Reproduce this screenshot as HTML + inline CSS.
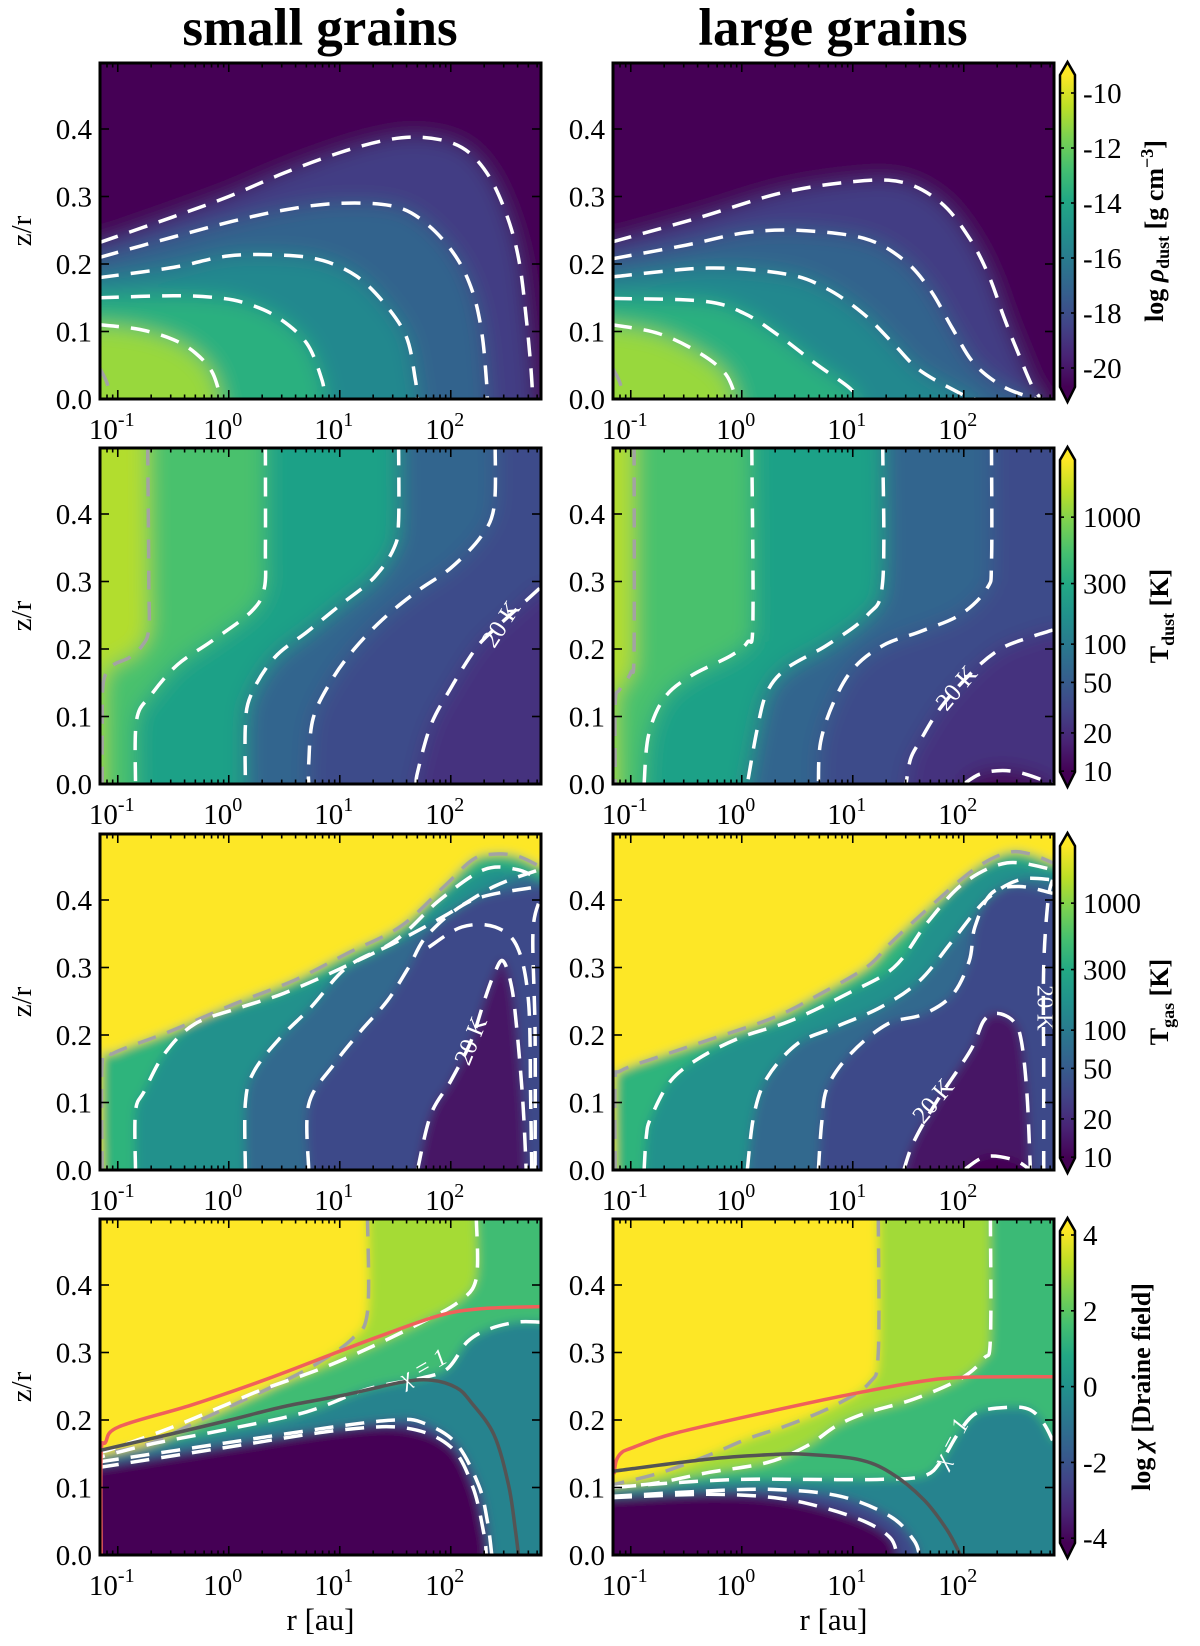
<!DOCTYPE html>
<html><head><meta charset="utf-8">
<style>
html,body{margin:0;padding:0;background:#fff;}
svg{display:block;}
text{font-family:"Liberation Serif",serif;}
</style></head>
<body>
<svg id="fig" width="1200" height="1646" viewBox="0 0 1200 1646" xmlns="http://www.w3.org/2000/svg">
<defs>
<filter id="blurS" filterUnits="userSpaceOnUse" x="0" y="0" width="1200" height="1646"><feGaussianBlur stdDeviation="5"/></filter>
<filter id="blurL" filterUnits="userSpaceOnUse" x="0" y="0" width="1200" height="1646"><feGaussianBlur stdDeviation="10"/></filter>
<linearGradient id="viridis" x1="0" y1="1" x2="0" y2="0">
<stop offset="0" stop-color="#440154"/><stop offset="0.1" stop-color="#482475"/><stop offset="0.2" stop-color="#414487"/><stop offset="0.3" stop-color="#355f8d"/><stop offset="0.4" stop-color="#2a788e"/><stop offset="0.5" stop-color="#21918c"/><stop offset="0.6" stop-color="#22a884"/><stop offset="0.7" stop-color="#44bf70"/><stop offset="0.8" stop-color="#7ad151"/><stop offset="0.9" stop-color="#bddf26"/><stop offset="1" stop-color="#fde725"/>
</linearGradient>
</defs>
<text x="320" y="45" text-anchor="middle" font-size="53" font-weight="bold">small grains</text>
<text x="833" y="45" text-anchor="middle" font-size="53" font-weight="bold">large grains</text>
</svg>
<script>
// ---------- data (log10 r [au], z/r) ----------
const rhoSmallC1=[[-1.16,0.232],[-0.5,0.27],[0,0.30],[0.5,0.335],[1.0,0.365],[1.4,0.383],[1.7,0.388],[2.0,0.38],[2.2,0.36],[2.38,0.32],[2.53,0.26],[2.62,0.2],[2.68,0.12],[2.72,0.05],[2.74,0]];
const rhoSmallC2=[[-1.16,0.21],[-0.5,0.24],[0,0.262],[0.5,0.28],[1.0,0.29],[1.5,0.285],[1.8,0.257],[2.05,0.21],[2.2,0.157],[2.28,0.098],[2.32,0.03],[2.33,0]];
const rhoSmallC3=[[-1.16,0.18],[-0.5,0.195],[0,0.212],[0.5,0.213],[0.85,0.205],[1.15,0.182],[1.4,0.142],[1.6,0.092],[1.68,0.03],[1.7,0]];
const rhoSmallC4=[[-1.16,0.15],[-0.5,0.153],[-0.1,0.15],[0.15,0.142],[0.43,0.122],[0.7,0.083],[0.84,0.028],[0.86,0]];
const rhoSmallC5=[[-1.16,0.11],[-0.8,0.103],[-0.5,0.088],[-0.3,0.068],[-0.15,0.04],[-0.07,0]];
const rhoGrayArc=[[-1.16,0.045],[-1.1,0.025],[-1.06,0]];
const rhoLargeC1=[[-1.16,0.233],[-0.4,0.268],[0.35,0.305],[1.0,0.322],[1.45,0.321],[1.8,0.29],[2.06,0.236],[2.23,0.181],[2.36,0.122],[2.49,0.068],[2.62,0.018],[2.7,0]];
const rhoLargeC2=[[-1.16,0.208],[-0.5,0.228],[0.02,0.246],[0.5,0.25],[1.1,0.238],[1.46,0.206],[1.7,0.161],[1.89,0.107],[2.09,0.053],[2.36,0.018],[2.65,0]];
const rhoLargeC3=[[-1.16,0.181],[-0.3,0.194],[0.4,0.185],[0.76,0.164],[1.09,0.127],[1.36,0.083],[1.6,0.043],[1.96,0.009],[2.1,0]];
const rhoLargeC4=[[-1.16,0.149],[-0.35,0.145],[0.02,0.127],[0.35,0.092],[0.66,0.053],[0.96,0.018],[1.05,0]];
const rhoLargeC5=[[-1.16,0.11],[-0.75,0.097],[-0.4,0.07],[-0.15,0.038],[-0.05,0]];

const tdSmallGray=[[-0.73,0.5],[-0.72,0.3],[-0.72,0.23],[-0.78,0.205],[-0.9,0.187],[-1.05,0.175],[-1.13,0.15],[-1.14,0.08],[-1.14,0]];
const tdSmall300=[[0.33,0.5],[0.33,0.35],[0.32,0.29],[0.2,0.255],[-0.16,0.211],[-0.46,0.177],[-0.7,0.132],[-0.83,0.095],[-0.84,0]];
const tdSmall100=[[1.53,0.5],[1.53,0.39],[1.49,0.35],[1.31,0.306],[1.01,0.266],[0.71,0.226],[0.41,0.187],[0.2,0.132],[0.15,0.087],[0.15,0]];
const tdSmall50=[[2.4,0.5],[2.39,0.41],[2.27,0.366],[2.0,0.32],[1.7,0.286],[1.4,0.246],[1.13,0.2],[0.92,0.152],[0.76,0.097],[0.72,0.03],[0.72,0]];
const tdSmall20=[[2.8,0.29],[2.6,0.26],[2.3,0.215],[2.18,0.19],[2.0,0.142],[1.82,0.087],[1.7,0.017],[1.69,0]];
const tdLargeGray=[[-0.97,0.5],[-0.97,0.2],[-1.0,0.165],[-1.1,0.14],[-1.14,0.12],[-1.14,0]];
const tdLarge300=[[0.09,0.5],[0.1,0.24],[0.05,0.21],[-0.1,0.19],[-0.46,0.16],[-0.7,0.127],[-0.84,0.072],[-0.88,0]];
const tdLarge100=[[1.27,0.5],[1.27,0.3],[1.13,0.25],[0.77,0.206],[0.41,0.172],[0.23,0.137],[0.14,0.082],[0.05,0]];
const tdLarge50=[[2.25,0.5],[2.25,0.33],[2.21,0.29],[1.97,0.251],[1.61,0.226],[1.28,0.206],[1.01,0.172],[0.83,0.122],[0.71,0.062],[0.69,0]];
const tdLarge20=[[2.8,0.228],[2.55,0.215],[2.33,0.2],[2.1,0.17],[1.8,0.115],[1.6,0.062],[1.52,0.037],[1.48,0]];
const tdLarge10=[[2.0,0],[2.15,0.015],[2.35,0.02],[2.55,0.015],[2.8,0]];

const tgSmallSurf=[[-1.14,0],[-1.14,0.16],[-1.05,0.172],[-0.91,0.182],[-0.52,0.206],[0.05,0.246],[0.59,0.281],[1.07,0.321],[1.55,0.361],[1.94,0.42],[2.2,0.46],[2.39,0.468],[2.6,0.465],[2.8,0.45]];
const tgSmall300=[[-0.84,0],[-0.84,0.087],[-0.76,0.117],[-0.58,0.172],[-0.31,0.216],[0.11,0.241],[0.5,0.262],[1.0,0.298],[1.5,0.34],[1.9,0.4],[2.3,0.445],[2.6,0.445],[2.8,0.43]];
const tgSmall100=[[0.15,0],[0.15,0.1],[0.23,0.147],[0.47,0.197],[0.74,0.241],[1.07,0.301],[1.49,0.336],[1.94,0.376],[2.39,0.42],[2.8,0.445]];
const tgSmall50=[[0.72,0],[0.72,0.097],[0.95,0.157],[1.19,0.206],[1.43,0.251],[1.62,0.3],[1.8,0.35],[2.2,0.4],[2.8,0.42]];
const tgSmall50b=[[1.8,0.33],[2.1,0.36],[2.4,0.36],[2.6,0.33],[2.7,0.25],[2.72,0.1],[2.73,0]];
const tgSmall20=[[1.7,0],[1.82,0.082],[2.0,0.132],[2.18,0.19],[2.3,0.25],[2.39,0.29],[2.47,0.31],[2.55,0.27],[2.6,0.2],[2.65,0.1],[2.68,0]];
const tgSmallEdge=[[2.76,0],[2.76,0.2],[2.74,0.35],[2.8,0.4]];
const tgLargeSurf=[[-1.14,0],[-1.14,0.13],[-1.09,0.147],[-0.76,0.167],[-0.31,0.192],[0.29,0.226],[0.71,0.261],[1.13,0.301],[1.34,0.336],[1.67,0.386],[2.09,0.445],[2.39,0.47],[2.6,0.468],[2.8,0.455]];
const tgLarge300=[[-0.88,0],[-0.86,0.05],[-0.82,0.077],[-0.64,0.132],[-0.37,0.167],[0.0,0.197],[0.44,0.221],[0.95,0.261],[1.37,0.3],[1.67,0.366],[2.0,0.425],[2.39,0.455],[2.8,0.445]];
const tgLarge100=[[0.05,0],[0.11,0.082],[0.23,0.137],[0.5,0.187],[0.83,0.211],[1.25,0.241],[1.6,0.28],[1.9,0.34],[2.2,0.4],[2.5,0.43],[2.8,0.43]];
const tgLarge50=[[0.69,0],[0.72,0.07],[0.77,0.122],[0.98,0.172],[1.31,0.216],[1.64,0.231],[1.9,0.26],[2.05,0.31],[2.1,0.36],[2.25,0.41],[2.5,0.42],[2.8,0.41]];
const tgLarge20=[[1.46,0],[1.55,0.042],[1.75,0.1],[2.06,0.177],[2.18,0.221],[2.3,0.232],[2.45,0.22],[2.52,0.19],[2.57,0.112],[2.6,0]];
const tgLargeEdge=[[2.72,0],[2.72,0.15],[2.72,0.3],[2.76,0.4],[2.8,0.43]];
const tgLarge10=[[2.0,0],[2.2,0.02],[2.45,0.015],[2.6,0]];

const chiSmallRed=[[-1.15,0],[-1.15,0.15],[-1.11,0.167],[-0.99,0.19],[-0.34,0.222],[0.35,0.261],[0.97,0.3],[1.39,0.326],[1.9,0.355],[2.28,0.365],[2.8,0.368]];
const chiSmallTau=[[-1.16,0.155],[-0.5,0.18],[0.01,0.2],[0.5,0.22],[1.04,0.237],[1.56,0.256],[1.83,0.259],[2.05,0.248],[2.18,0.227],[2.39,0.178],[2.52,0.104],[2.58,0.04],[2.61,0]];
const chiSmallGray=[[1.25,0.5],[1.25,0.36],[1.11,0.32],[0.77,0.281],[0.35,0.246],[-0.23,0.202],[-0.68,0.167],[-1.02,0.153],[-1.16,0.148]];
const chiSmallC1=[[2.23,0.5],[2.23,0.41],[2.07,0.375],[1.73,0.344],[1.32,0.311],[0.83,0.276],[0.3,0.245],[0.01,0.225],[-0.5,0.19],[-1.0,0.16],[-1.16,0.152]];
const chiSmallC2=[[2.8,0.345],[2.6,0.345],[2.35,0.335],[2.15,0.316],[1.97,0.276],[1.73,0.262],[1.25,0.246],[0.7,0.212],[0.01,0.187],[-0.68,0.165],[-1.16,0.145]];
const chiSmallC3=[[-1.16,0.138],[0.01,0.167],[1.04,0.192],[1.5,0.2],[1.73,0.197],[2.04,0.167],[2.25,0.104],[2.33,0.05],[2.37,0]];
const chiSmallC4=[[-1.16,0.13],[0.0,0.16],[1.0,0.185],[1.6,0.188],[2.0,0.16],[2.2,0.1],[2.3,0.03],[2.32,0]];
const chiLargeRed=[[-1.15,0.12],[-1.13,0.14],[-1.08,0.152],[-1.0,0.158],[-0.61,0.18],[0.29,0.214],[1.07,0.241],[1.79,0.261],[2.39,0.264],[2.8,0.264]];
const chiLargeTau=[[-1.16,0.124],[-0.31,0.142],[0.3,0.149],[0.59,0.149],[1.04,0.142],[1.34,0.122],[1.64,0.082],[1.85,0.037],[1.97,0]];
const chiLargeGray=[[1.23,0.5],[1.23,0.3],[1.15,0.255],[0.83,0.221],[0.41,0.192],[0.05,0.172],[-0.31,0.147],[-0.73,0.122],[-1.09,0.107],[-1.16,0.104]];
const chiLargeC1=[[2.24,0.5],[2.24,0.32],[2.18,0.291],[1.97,0.261],[1.55,0.231],[1.13,0.211],[0.86,0.192],[0.59,0.162],[0.23,0.137],[-0.31,0.122],[-0.76,0.107],[-1.16,0.1]];
const chiLargeC2=[[2.8,0.17],[2.72,0.195],[2.6,0.215],[2.42,0.219],[2.12,0.211],[1.95,0.18],[1.8,0.14],[1.64,0.117],[1.25,0.112],[0.59,0.112],[-0.01,0.112],[-0.61,0.107],[-1.16,0.1]];
const chiLargeC3=[[-1.16,0.087],[-0.3,0.095],[0.29,0.097],[0.89,0.087],[1.34,0.057],[1.55,0.022],[1.6,0]];
const chiLargeC4=[[-1.16,0.085],[-0.31,0.09],[0.29,0.085],[0.74,0.07],[1.13,0.048],[1.34,0.025],[1.4,0]];

// tick labels
const xTickExp=["-1","0","1","2"];
const yTickLabels=["0.0","0.1","0.2","0.3","0.4"];
const cbRhoTicks=[-10,-12,-14,-16,-18,-20];
const cbTempTicks=[1000,300,100,50,20,10];
const cbChiTicks=[4,2,0,-2,-4];

// ---------- axes ----------
const X0=[100,613], Y0=[63,448,834,1219], PW=441, PH=336, DEC=111, LMIN=-1.16, ZPX=675;
const LMAX=LMIN+PW/DEC;
function xAx(lr,col){return X0[col]+(lr-LMIN)*DEC;}
function yAx(z,row){return Y0[row]+PH-z*ZPX;}
const NS="http://www.w3.org/2000/svg";
const svg=document.getElementById('fig');
function mk(tag,attrs,parent){const e=document.createElementNS(NS,tag);for(const k in attrs)e.setAttribute(k,attrs[k]);(parent||svg).appendChild(e);return e;}

function smooth(P,start){
  let d=start?`M${P[0][0].toFixed(1)},${P[0][1].toFixed(1)}`:`L${P[0][0].toFixed(1)},${P[0][1].toFixed(1)}`;
  for(let i=0;i<P.length-1;i++){
    const p0=P[Math.max(i-1,0)],p1=P[i],p2=P[i+1],p3=P[Math.min(i+2,P.length-1)];
    const c1=[p1[0]+(p2[0]-p0[0])/6,p1[1]+(p2[1]-p0[1])/6];
    const c2=[p2[0]-(p3[0]-p1[0])/6,p2[1]-(p3[1]-p1[1])/6];
    d+=`C${c1[0].toFixed(1)},${c1[1].toFixed(1)} ${c2[0].toFixed(1)},${c2[1].toFixed(1)} ${p2[0].toFixed(1)},${p2[1].toFixed(1)}`;
  }
  return d;
}
const LB=[-1.6,-0.1],LT=[-1.6,0.7],RT=[3.3,0.7];
function ext(p){
  if(p[1]<=0.001)return [p[0],-0.1];
  if(p[1]>=0.49)return [p[0],0.7];
  if(p[0]<=-1.13)return [-1.6,p[1]];
  if(p[0]>=2.79)return [3.3,p[1]];
  return p;
}
function regionD(pts,corners,row,col){
  const tp=q=>[xAx(q[0],col),yAx(q[1],row)];
  const a=tp(ext(pts[0]));
  let d=`M${a[0].toFixed(1)},${a[1].toFixed(1)}`;
  d+=smooth(pts.map(tp),false);
  const b=tp(ext(pts[pts.length-1]));
  d+=`L${b[0].toFixed(1)},${b[1].toFixed(1)}`;
  corners.forEach(c=>{const q=tp(c);d+=`L${q[0].toFixed(1)},${q[1].toFixed(1)}`;});
  return d+'Z';
}
const STY={
  white:{stroke:'#ffffff',w:3.5,dash:'19 12'},
  gray:{stroke:'#a3a3a3',w:3.5,dash:'19 12'},
  red:{stroke:'#f0605a',w:3.5,dash:''},
  dark:{stroke:'#545454',w:3.5,dash:''}
};

function drawPanel(row,col,name,base,layers,lines,labels){
  const x0=X0[col],y0=Y0[row];
  const cp=mk('clipPath',{id:'clip-'+name});
  mk('rect',{x:x0,y:y0,width:PW,height:PH},cp);
  const g=mk('g',{'clip-path':`url(#clip-${name})`});
  
  
  const bg=mk('g',{filter:row<2?'url(#blurL)':'url(#blurS)'},g);
  const br=mk('rect',{x:x0-60,y:y0-60,width:PW+120,height:PH+120,fill:base},bg);
  
  
  layers.forEach(L=>{
    const p=mk('path',{d:regionD(L.pts,L.corners,row,col),fill:L.color},bg);
    
    
  });
  lines.forEach(Ln=>{
    const s=STY[Ln.style];
    const P=Ln.pts.map(q=>[xAx(q[0],col),yAx(q[1],row)]);
    const p=mk('path',{d:smooth(P,true),fill:'none',stroke:s.stroke,'stroke-width':s.w,'stroke-dasharray':s.dash},g);
    
    
  });
  (labels||[]).forEach(lb=>{
    const x=xAx(lb.at[0],col),y=yAx(lb.at[1],row);
    const t=mk('text',{x:x,y:y,fill:'#fff','font-size':lb.size||25,'text-anchor':'middle','dominant-baseline':'middle',transform:`rotate(${lb.rot} ${x} ${y})`,'font-style':lb.italic?'italic':'normal'},g);
    t.textContent=lb.text;
    
    
  });
  const tk=mk('g',{stroke:'#000','stroke-width':1.6});
  
  
  for(let d=-2;d<=3;d++){
    for(let k=1;k<=9;k++){
      const lr=d+Math.log10(k);
      if(lr<LMIN||lr>LMAX)continue;
      const x=xAx(lr,col),len=k===1?9:4.5;
      mk('line',{x1:x,y1:y0+PH,x2:x,y2:y0+PH-len},tk);
      mk('line',{x1:x,y1:y0,x2:x,y2:y0+len},tk);
    }
  }
  xTickExp.forEach(e=>{
    const x=xAx(parseFloat(e),col);
    const t=mk('text',{x:x-6,y:y0+PH+40,'font-size':29,'text-anchor':'middle'});
    t.innerHTML=`10<tspan dy="-13" font-size="20">${e}</tspan>`;
    
    
  });
  yTickLabels.forEach(s=>{
    const y=yAx(parseFloat(s),row);
    mk('line',{x1:x0,y1:y,x2:x0+9,y2:y},tk);
    mk('line',{x1:x0+PW,y1:y,x2:x0+PW-9,y2:y},tk);
    const t=mk('text',{x:x0-8,y:y+10,'font-size':29,'text-anchor':'end'});
    t.textContent=s;
    
    
  });
  const fr=mk('rect',{x:x0,y:y0,width:PW,height:PH,fill:'none',stroke:'#000','stroke-width':3});
  
  
  if(col===0){
    const yc=y0+PH/2;
    const t=mk('text',{x:31,y:yc,'font-size':29,'text-anchor':'middle',transform:`rotate(-90 31 ${yc})`});
    t.textContent='z/r';
    
    
  }
  if(row===3){
    const t=mk('text',{x:x0+PW/2,y:1630,'font-size':31,'text-anchor':'middle'});
    t.textContent='r [au]';
    
    
  }
}

function colorbar(row,ticks,posFn,fmt,titleHTML,titleX){
  const y0=Y0[row],bx=1060,bw=15,top=y0+12,bot=y0+PH-12;
  const g=mk('g',{});
  
  
  mk('rect',{x:bx,y:top,width:bw,height:bot-top,fill:'url(#viridis)'},g);
  mk('path',{d:`M${bx},${top}L${bx+bw/2},${y0-1}L${bx+bw},${top}Z`,fill:'#fde725'},g);
  mk('path',{d:`M${bx},${bot}L${bx+bw/2},${y0+PH+3}L${bx+bw},${bot}Z`,fill:'#440154'},g);
  mk('path',{d:`M${bx},${top}L${bx+bw/2},${y0-1}L${bx+bw},${top}L${bx+bw},${bot}L${bx+bw/2},${y0+PH+3}L${bx},${bot}Z`,fill:'none',stroke:'#000','stroke-width':2.5},g);
  ticks.forEach(v=>{
    const y=posFn(v,y0);
    mk('line',{x1:bx,y1:y,x2:bx+4,y2:y,stroke:'#000','stroke-width':1.6},g);
    mk('line',{x1:bx+bw,y1:y,x2:bx+bw-4,y2:y,stroke:'#000','stroke-width':1.6},g);
    const t=mk('text',{x:1083,y:y+10,'font-size':29},g);
    t.textContent=fmt(v);
    
    
  });
  const yc=y0+PH/2;
  const t=mk('text',{x:titleX,y:yc,'font-size':26,'font-weight':'bold','text-anchor':'middle',transform:`rotate(-90 ${titleX} ${yc})`},g);
  t.innerHTML=titleHTML;
  
  
}

const rhoCols=['#433d84','#33638d','#23888e','#2ab07f','#98d83e'];
drawPanel(0,0,'rho-small','#440154',
  [rhoSmallC1,rhoSmallC2,rhoSmallC3,rhoSmallC4,rhoSmallC5].map((p,i)=>({pts:p,corners:[LB],color:rhoCols[i]})),
  [rhoSmallC1,rhoSmallC2,rhoSmallC3,rhoSmallC4,rhoSmallC5].map(p=>({pts:p,style:'white'})).concat([{pts:rhoGrayArc,style:'gray'}]));
drawPanel(0,1,'rho-large','#440154',
  [rhoLargeC1,rhoLargeC2,rhoLargeC3,rhoLargeC4,rhoLargeC5].map((p,i)=>({pts:p,corners:[LB],color:rhoCols[i]})),
  [rhoLargeC1,rhoLargeC2,rhoLargeC3,rhoLargeC4,rhoLargeC5].map(p=>({pts:p,style:'white'})).concat([{pts:rhoGrayArc,style:'gray'}]));

drawPanel(1,0,'tdust-small','#45317e',[
  {pts:tdSmall20,corners:[LB,LT,RT],color:'#3e4c8a'},
  {pts:tdSmall50,corners:[LB,LT],color:'#32658e'},
  {pts:tdSmall100,corners:[LB,LT],color:'#1fa187'},
  {pts:tdSmall300,corners:[LB,LT],color:'#4ac16d'},
  {pts:tdSmallGray,corners:[LB,LT],color:'#b2dd2d'}],
  [{pts:tdSmallGray,style:'gray'},{pts:tdSmall300,style:'white'},{pts:tdSmall100,style:'white'},{pts:tdSmall50,style:'white'},{pts:tdSmall20,style:'white'}],
  [{text:'20 K',at:[2.47,0.235],rot:-57}]);
drawPanel(1,1,'tdust-large','#45317e',[
  {pts:tdLarge20,corners:[LB,LT,RT],color:'#3e4c8a'},
  {pts:tdLarge50,corners:[LB,LT],color:'#32658e'},
  {pts:tdLarge100,corners:[LB,LT],color:'#1fa187'},
  {pts:tdLarge300,corners:[LB,LT],color:'#4ac16d'},
  {pts:tdLargeGray,corners:[LB,LT],color:'#b2dd2d'},
  {pts:tdLarge10,corners:[],color:'#440154'}],
  [{pts:tdLargeGray,style:'gray'},{pts:tdLarge300,style:'white'},{pts:tdLarge100,style:'white'},{pts:tdLarge50,style:'white'},{pts:tdLarge20,style:'white'},{pts:tdLarge10,style:'white'}],
  [{text:'20 K',at:[1.95,0.14],rot:-50}]);

drawPanel(2,0,'tgas-small','#3e4a89',[
  {pts:tgSmall20,corners:[],color:'#471365'},
  {pts:tgSmall50,corners:[RT,LT,LB],color:'#30698e'},
  {pts:tgSmall100,corners:[RT,LT,LB],color:'#21918c'},
  {pts:tgSmall300,corners:[RT,LT,LB],color:'#2fb47c'},
  {pts:tgSmallSurf,corners:[RT,LT,LB],color:'#fde725'}],
  [{pts:tgSmallSurf,style:'gray'},{pts:tgSmall300,style:'white'},{pts:tgSmall100,style:'white'},{pts:tgSmall50,style:'white'},{pts:tgSmall50b,style:'white'},{pts:tgSmall20,style:'white'},{pts:tgSmallEdge,style:'white'}],
  [{text:'20 K',at:[2.2,0.19],rot:-68}]);
drawPanel(2,1,'tgas-large','#3e4a89',[
  {pts:tgLarge20,corners:[],color:'#471365'},
  {pts:tgLarge50,corners:[RT,LT,LB],color:'#30698e'},
  {pts:tgLarge100,corners:[RT,LT,LB],color:'#21918c'},
  {pts:tgLarge300,corners:[RT,LT,LB],color:'#2fb47c'},
  {pts:tgLargeSurf,corners:[RT,LT,LB],color:'#fde725'},
  {pts:tgLarge10,corners:[],color:'#440154'}],
  [{pts:tgLargeSurf,style:'gray'},{pts:tgLarge300,style:'white'},{pts:tgLarge100,style:'white'},{pts:tgLarge50,style:'white'},{pts:tgLarge20,style:'white'},{pts:tgLargeEdge,style:'white'},{pts:tgLarge10,style:'white'}],
  [{text:'20 K',at:[1.74,0.1],rot:-50},{text:'20 K',at:[2.71,0.24],rot:90,size:23}]);

drawPanel(3,0,'chi-small','#26838e',[
  {pts:chiSmallC2,corners:[LT,RT],color:'#3fbc73'},
  {pts:chiSmallC1,corners:[LT],color:'#a5db36'},
  {pts:chiSmallGray,corners:[LT],color:'#fde725'},
  {pts:chiSmallC3,corners:[LB],color:'#3e4a89'},
  {pts:chiSmallC4,corners:[LB],color:'#440154'}],
  [{pts:chiSmallGray,style:'gray'},{pts:chiSmallC1,style:'white'},{pts:chiSmallC2,style:'white'},{pts:chiSmallC3,style:'white'},{pts:chiSmallC4,style:'white'},{pts:chiSmallRed,style:'red'},{pts:chiSmallTau,style:'dark'}],
  [{text:'χ = 1',at:[1.76,0.275],rot:-30,italic:true,size:24}]);
drawPanel(3,1,'chi-large','#26838e',[
  {pts:chiLargeC2,corners:[LT,RT],color:'#3aba76'},
  {pts:chiLargeC1,corners:[LT],color:'#a2da37'},
  {pts:chiLargeGray,corners:[LT],color:'#fde725'},
  {pts:chiLargeC3,corners:[LB],color:'#3e4a89'},
  {pts:chiLargeC4,corners:[LB],color:'#440154'}],
  [{pts:chiLargeGray,style:'gray'},{pts:chiLargeC1,style:'white'},{pts:chiLargeC2,style:'white'},{pts:chiLargeC3,style:'white'},{pts:chiLargeC4,style:'white'},{pts:chiLargeRed,style:'red'},{pts:chiLargeTau,style:'dark'}],
  [{text:'χ = 1',at:[1.9,0.165],rot:-62,italic:true,size:24}]);

colorbar(0,cbRhoTicks,(v,y0)=>y0+30+(-10-v)*27.5,v=>String(v),
  'log <tspan font-style="italic">ρ</tspan><tspan font-size="18" dy="6">dust</tspan><tspan dy="-6"> [g cm</tspan><tspan font-size="18" dy="-10">−3</tspan><tspan dy="10">]</tspan>',1163);
colorbar(1,cbTempTicks,(v,y0)=>y0+12+(3.45-Math.log10(v))*127,v=>String(v),
  'T<tspan font-size="18" dy="6">dust</tspan><tspan dy="-6"> [K]</tspan>',1168);
colorbar(2,cbTempTicks,(v,y0)=>y0+12+(3.45-Math.log10(v))*127,v=>String(v),
  'T<tspan font-size="18" dy="6">gas</tspan><tspan dy="-6"> [K]</tspan>',1168);
colorbar(3,cbChiTicks,(v,y0)=>y0+16+(4-v)*37.9,v=>String(v),
  'log <tspan font-style="italic">χ</tspan> [Draine field]',1150);
</script>
</body></html>
